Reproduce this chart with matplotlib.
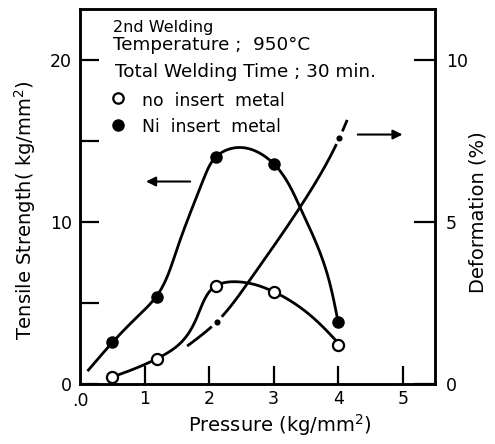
import numpy as np
import matplotlib
matplotlib.use('Agg')
import matplotlib.pyplot as plt

plt.rcParams['font.family'] = ['DejaVu Sans']
plt.rcParams['lines.scale_dashes'] = False

# measured points (pressure kg/mm2, tensile strength kg/mm2)
pressure = [0.5, 1.2, 2.1, 3.0, 4.0]
ts_ni = [2.6, 5.4, 14.0, 13.6, 3.8]
ts_none = [0.43, 1.55, 6.05, 5.7, 2.4]

# hand drawn fit curves
ni_curve_x = [0.13, 0.51, 0.85, 1.2, 1.5, 1.81, 1.94, 2.1, 2.45, 3.0, 3.41, 3.67, 3.83, 4.0]
ni_curve_y = [0.86, 2.6, 4.0, 5.5, 8.3, 11.6, 12.9, 14.0, 14.6, 13.6, 10.9, 8.6, 6.8, 3.8]
none_curve_x = [0.5, 0.85, 1.21, 1.55, 1.81, 2.1, 2.48, 3.0, 3.52, 3.77, 4.03]
none_curve_y = [0.43, 0.95, 1.6, 2.5, 4.1, 6.05, 6.3, 5.7, 4.4, 3.5, 2.4]

# deformation (%) curve, dots at 2.1 and 4.0
def_x = [1.66, 2.12, 2.6, 3.4, 4.02, 4.14]
def_y = [1.17, 1.92, 3.12, 5.43, 7.6, 8.15]
def_dots = [1, 4]

xticks = [1, 2, 3, 4, 5]
xticklabels = ['1', '2', '3', '4', '5']


def spline(xs, ys, sx, sy, n=40):
    # natural cubic spline, chord length parameter (in pixel-like units)
    x = np.asarray(xs, float)
    y = np.asarray(ys, float)
    P = np.column_stack([x * sx, y * sy])
    h = np.hypot(*np.diff(P, axis=0).T)
    t = np.concatenate([[0], np.cumsum(h)])
    m = len(t)
    out = []
    for v in (x, y):
        A = np.zeros((m, m))
        b = np.zeros(m)
        A[0, 0] = A[-1, -1] = 1
        for i in range(1, m - 1):
            A[i, i - 1] = h[i - 1]
            A[i, i] = 2 * (h[i - 1] + h[i])
            A[i, i + 1] = h[i]
            b[i] = 6 * ((v[i + 1] - v[i]) / h[i] - (v[i] - v[i - 1]) / h[i - 1])
        M = np.linalg.solve(A, b)
        vals = []
        for i in range(m - 1):
            s = np.linspace(0, h[i], n, endpoint=False)
            a1 = (v[i + 1] - v[i]) / h[i] - h[i] * (2 * M[i] + M[i + 1]) / 6
            vals.append(v[i] + a1 * s + M[i] / 2 * s ** 2 + (M[i + 1] - M[i]) / (6 * h[i]) * s ** 3)
        vals.append([v[-1]])
        out.append(np.concatenate(vals))
    return out[0], out[1]


fig = plt.figure(figsize=(4.95, 4.44), dpi=100)
ax = fig.add_axes([80 / 495, 60 / 444, 355 / 495, 375 / 444])
ax.set_xlim(0, 5.5)
ax.set_ylim(0, 23.15)
ax2 = ax.twinx()
ax2.set_ylim(0, 23.15 / 2)

for a in (ax, ax2):
    for s in a.spines.values():
        s.set_linewidth(1.8)

lw = 2.0
cx, cy = spline(ni_curve_x, ni_curve_y, 64.5, 16.2)
ax.plot(cx, cy, color='black', lw=lw)
cx, cy = spline(none_curve_x, none_curve_y, 64.5, 16.2)
ax.plot(cx, cy, color='black', lw=lw)

ax.plot(pressure, ts_ni, 'o', color='black', ms=8, zorder=5)
ax.plot(pressure, ts_none, 'o', mfc='white', mec='black', mew=1.6, ms=8, zorder=5)

# deformation: dash-dot line with gaps round the two dots
n = 40
dx, dy = spline(def_x, def_y, 64.5, 32.4, n)
disp = ax2.transData.transform(np.column_stack([dx, dy]))
seg = np.hypot(np.diff(disp[:, 0]), np.diff(disp[:, 1]))
cum = np.concatenate([[0], np.cumsum(seg)])
L1 = cum[def_dots[0] * n]
L2 = cum[def_dots[1] * n]
Lt = cum[-1]
g = 7
k = 72 / fig.dpi
dashes = [(L1 - g) * k, 2 * g * k, (L2 - L1 - 2 * g) * k, 2 * g * k, (Lt - L2) * k + 2, 20]
ax2.plot(dx, dy, color='black', lw=lw, linestyle=(0, dashes))
ax2.plot([def_x[i] for i in def_dots], [def_y[i] for i in def_dots], 'o', color='black', ms=3.4)

# ticks
ax.set_xticks(xticks)
ax.set_xticklabels(xticklabels)
ax.set_yticks([0, 10, 20])
ax.set_yticks([5, 15], minor=True)
ax2.set_yticks([0, 5, 10])
ax.tick_params(axis='x', direction='in', length=13, width=1.6, pad=4, labelsize=12.5)
ax.tick_params(axis='y', which='both', direction='in', length=14, width=1.6, pad=6, labelsize=12.5)
ax2.tick_params(axis='y', direction='in', length=15, width=1.6, pad=8, labelsize=12.5)
ax.text(0, -0.022, '.0', transform=ax.transAxes, ha='center', va='top', fontsize=12.5)

ax.text(-0.155, 0.464, 'Tensile Strength( kg/mm$^{2}$)', transform=ax.transAxes,
        rotation=90, ha='center', va='center', fontsize=14)
ax.text(1.121, 0.459, 'Deformation (%)', transform=ax.transAxes,
        rotation=90, ha='center', va='center', fontsize=14)
ax.text(0.563, -0.109, 'Pressure (kg/mm$^{2}$)', transform=ax.transAxes,
        ha='center', va='center', fontsize=14)

# condition notes and legend
fs = 13.2
ax.text(0.51, 21.75, '2nd Welding', fontsize=11.5, va='baseline')
ax.text(0.51, 20.6, 'Temperature ;  950°C', fontsize=fs, va='baseline')
ax.text(0.54, 18.95, 'Total Welding Time ; 30 min.', fontsize=fs, va='baseline')
ax.plot([0.59], [17.65], 'o', mfc='white', mec='black', mew=1.6, ms=7.5)
ax.text(0.96, 17.16, 'no  insert  metal', fontsize=12.4, va='baseline')
ax.plot([0.59], [16.0], 'o', color='black', ms=8)
ax.text(0.96, 15.56, 'Ni  insert  metal', fontsize=12.4, va='baseline')

# arrows pointing to the axis of each curve
ax.annotate('', xy=(0.98, 12.5), xytext=(1.75, 12.5),
            arrowprops=dict(arrowstyle='-|>', lw=1.5, color='black', mutation_scale=14))
ax.annotate('', xy=(5.04, 15.4), xytext=(4.26, 15.4),
            arrowprops=dict(arrowstyle='-|>', lw=1.5, color='black', mutation_scale=14))

fig.savefig('out.png', dpi=100)
